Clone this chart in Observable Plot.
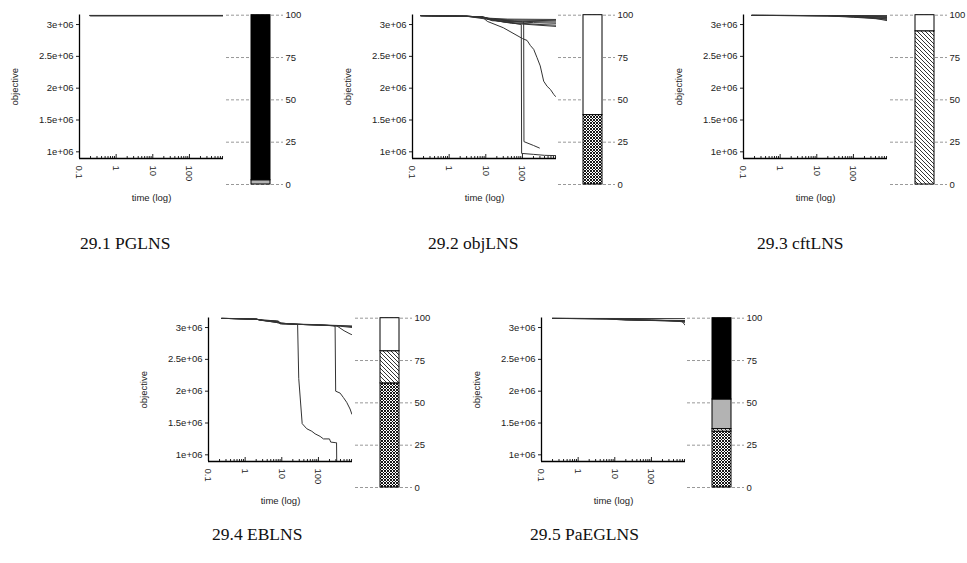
<!DOCTYPE html>
<html><head><meta charset="utf-8">
<script src="https://cdn.jsdelivr.net/npm/d3@7"></script>
<script src="https://cdn.jsdelivr.net/npm/@observablehq/plot@0.6"></script>
<style>
body{margin:0;background:#fff}
#root{position:relative;width:967px;height:563px;overflow:hidden;background:#fff}
.abs{position:absolute}
.cap{font-family:"Liberation Serif","DejaVu Serif",serif;font-size:17.5px;line-height:20px;color:#111;white-space:nowrap}
</style>
</head><body>
<svg width="0" height="0" style="position:absolute">
 <defs>
  <pattern id="xhatch" patternUnits="userSpaceOnUse" width="3" height="3">
   <rect width="3" height="3" fill="#fff"/>
   <path d="M0,0L3,3M3,0L0,3" stroke="#000" stroke-width="0.9"/>
  </pattern>
  <pattern id="hatch" patternUnits="userSpaceOnUse" width="4" height="4">
   <rect width="4" height="4" fill="#fff"/>
   <path d="M-1,-1L5,5M-1,3L1,5M3,-1L5,1" stroke="#000" stroke-width="0.8"/>
  </pattern>
 </defs>
</svg>
<div id="root"></div>
<script>
// ---------- data ----------
const panelNames = ["29.1 PGLNS", "29.2 objLNS", "29.3 cftLNS", "29.4 EBLNS", "29.5 PaEGLNS"];

const xTicks = [0.1, 1, 10, 100];
const xTickLabels = ["0.1", "1", "10", "100"];
const xMinorTicks = [0.2,0.3,0.4,0.5,0.6,0.7,0.8,0.9,2,3,4,5,6,7,8,9,20,30,40,50,60,70,80,90,200,300,400,500,600,700,800];
const yTicks = [1e6, 1.5e6, 2e6, 2.5e6, 3e6];
const yTickLabels = ["1e+06", "1.5e+06", "2e+06", "2.5e+06", "3e+06"];
const pctTicks = [0, 25, 50, 75, 100];
const pctTickLabels = ["0", "25", "50", "75", "100"];

// runs: [time, objective]
const pglnsRuns = [
  [[0.19,3.145e6],[850,3.145e6]],
  [[0.19,3.14e6],[850,3.14e6]],
  [[0.2,3.136e6],[850,3.136e6]]
];
const objlnsRuns = [
  [[0.17,3.14e6],[3,3.13e6],[8,3.12e6],[12,3.1e6],[40,3.085e6],[850,3.08e6]],
  [[0.17,3.14e6],[3,3.13e6],[8,3.12e6],[11,3.09e6],[60,3.07e6],[850,3.06e6]],
  [[0.17,3.14e6],[3,3.13e6],[9,3.115e6],[20,3.07e6],[100,3.05e6],[850,3.04e6]],
  [[0.17,3.14e6],[3,3.13e6],[9,3.11e6],[15,3.06e6],[200,3.03e6],[850,3.02e6]],
  [[0.17,3.14e6],[3,3.13e6],[10,3.1e6],[30,3.04e6],[300,3.0e6],[850,2.99e6]],
  [[0.17,3.14e6],[3,3.13e6],[12,3.08e6],[50,3.02e6],[850,2.97e6]],
  [[0.17,3.14e6],[3,3.13e6],[8,3.12e6],[11,3.05e6],[30,2.95e6],[100,2.78e6],[134,2.75e6],[165,2.67e6],[203,2.61e6],[250,2.48e6],[306,2.35e6],[380,2.11e6],[470,2.03e6],[580,1.98e6],[720,1.9e6],[800,1.87e6]],
  [[0.17,3.14e6],[3,3.13e6],[8,3.12e6],[12,3.08e6],[60,3.02e6],[93,3.0e6],[95,0.975e6],[200,0.96e6],[400,0.945e6],[850,0.94e6]],
  [[0.17,3.14e6],[3,3.13e6],[8,3.12e6],[12,3.09e6],[100,3.04e6],[108,3.04e6],[110,1.16e6],[200,1.1e6],[290,1.06e6]]
];
const cftlnsRuns = [
  [[0.17,3.145e6],[850,3.14e6]],
  [[0.17,3.145e6],[30,3.14e6],[850,3.13e6]],
  [[0.17,3.145e6],[20,3.14e6],[300,3.13e6],[850,3.12e6]],
  [[0.17,3.145e6],[20,3.14e6],[200,3.125e6],[850,3.11e6]],
  [[0.17,3.145e6],[25,3.14e6],[150,3.12e6],[850,3.1e6]],
  [[0.17,3.145e6],[20,3.14e6],[100,3.12e6],[850,3.09e6]],
  [[0.17,3.145e6],[20,3.135e6],[100,3.115e6],[850,3.08e6]],
  [[0.17,3.145e6],[30,3.135e6],[300,3.11e6],[850,3.06e6]]
];
const eblnsRuns = [
  [[0.23,3.145e6],[2,3.135e6],[2.6,3.115e6],[7,3.1e6],[9,3.07e6],[25,3.05e6],[250,3.035e6],[850,3.025e6]],
  [[0.23,3.145e6],[2,3.135e6],[3,3.11e6],[8,3.09e6],[9,3.06e6],[30,3.05e6],[300,3.03e6],[850,3.015e6]],
  [[0.23,3.145e6],[2,3.13e6],[3,3.11e6],[8,3.1e6],[10,3.06e6],[100,3.045e6],[400,3.02e6],[850,3.0e6]],
  [[0.23,3.145e6],[2,3.13e6],[8,3.1e6],[9,3.06e6],[100,3.04e6],[320,3.025e6],[500,2.95e6],[730,2.9e6],[800,2.89e6]],
  [[0.23,3.145e6],[2,3.13e6],[9,3.07e6],[27,3.05e6],[29,2.2e6],[36,1.49e6],[48,1.41e6],[66,1.37e6],[81,1.33e6],[111,1.29e6],[137,1.25e6],[200,1.25e6],[216,1.2e6],[300,1.19e6],[312,1.19e6],[316,0.85e6]],
  [[0.23,3.145e6],[2,3.13e6],[9,3.07e6],[30,3.05e6],[250,3.03e6],[285,3.02e6],[295,2.0e6],[390,1.97e6],[480,1.9e6],[590,1.825e6],[730,1.72e6],[815,1.64e6]]
];
const paeglnsRuns = [
  [[0.2,3.145e6],[850,3.14e6]],
  [[0.2,3.145e6],[6,3.14e6],[15,3.12e6],[850,3.11e6]],
  [[0.2,3.145e6],[8,3.14e6],[20,3.12e6],[300,3.11e6],[850,3.09e6]],
  [[0.2,3.145e6],[10,3.135e6],[100,3.12e6],[600,3.1e6],[850,3.08e6]],
  [[0.2,3.145e6],[6,3.14e6],[20,3.125e6],[500,3.1e6],[700,3.09e6],[850,3.03e6]],
  [[0.2,3.145e6],[12,3.13e6],[40,3.115e6],[850,3.1e6]]
];
const panelRuns = [pglnsRuns, objlnsRuns, cftlnsRuns, eblnsRuns, paeglnsRuns];

// stacked percentage bars (bottom to top)
const barCategories = ["crosshatched", "hatched", "shaded", "solid", "empty"];
const barFills = ["url(#xhatch)", "url(#hatch)", "#b3b3b3", "#000000", "#ffffff"];
const pglnsBar   = [0, 0, 2.5, 97.5, 0];
const objlnsBar  = [41, 0, 0, 0, 59];
const cftlnsBar  = [0, 90.5, 0, 0, 9.5];
const eblnsBar   = [61.5, 19, 0, 0, 19.5];
const paeglnsBar = [33, 1.5, 17.5, 48, 0];
const panelBars = [pglnsBar, objlnsBar, cftlnsBar, eblnsBar, paeglnsBar];

const xDomain = [0.1, 850];
const yDomain = [0.895e6, 3.15e6];

// ---------- layout ----------
const layout = [
  {lineLeft: 79,  top: 0,     barLeft: 226, capLeft: 80,  capTop: 233},
  {lineLeft: 412, top: 0,     barLeft: 558, capLeft: 428, capTop: 233},
  {lineLeft: 743, top: 0,     barLeft: 890, capLeft: 757, capTop: 233},
  {lineLeft: 208, top: 302.5, barLeft: 355, capLeft: 212, capTop: 524},
  {lineLeft: 541, top: 302.5, barLeft: 687, capLeft: 530, capTop: 524}
];
const ML = 79, PW = 144, MT = 14.5, PH = 143.5;
const font = {fontFamily: "'Liberation Sans', Arial, sans-serif", fontSize: "9.5px", color: "#222", background: "none", overflow: "visible"};

function lineChart(runs) {
  const data = runs.flatMap((run, i) => run.map(([t, v]) => ({run: i, t, v})));
  return Plot.plot({
    width: ML + PW + 6, height: MT + PH + 52,
    marginLeft: ML, marginRight: 6, marginTop: MT, marginBottom: 52,
    style: font,
    x: {type: "log", domain: xDomain},
    y: {domain: yDomain},
    marks: [
      Plot.axisY({ticks: yTicks, tickFormat: d => yTickLabels[yTicks.indexOf(d)], tickSize: 3, tickPadding: 3,
        label: "objective", labelAnchor: "center", labelOffset: 68, labelArrow: "none"}),
      Plot.axisX({ticks: xTicks, tickFormat: d => xTickLabels[xTicks.indexOf(d)], tickRotate: 90, tickSize: 0, tickPadding: 7,
        label: "time (log)", labelAnchor: "center", labelOffset: 42, labelArrow: "none"}),
      Plot.axisX({ticks: xTicks, tickFormat: () => "", tickSize: -4, label: null}),
      Plot.axisX({ticks: xMinorTicks, tickFormat: () => "", tickSize: -2, label: null}),
      Plot.line(data, {x: "t", y: "v", z: "run", stroke: "#333", strokeWidth: 1, clip: true}),
      Plot.ruleX([xDomain[0]], {stroke: "#000", strokeWidth: 1.3}),
      Plot.ruleY([yDomain[0]], {stroke: "#000", strokeWidth: 1.3})
    ]
  });
}

function barChart(name, values) {
  const data = barCategories.map((c, i) => ({method: name, cat: c, pct: values[i]})).filter(d => d.pct > 0);
  return Plot.plot({
    width: 57 + 26, height: 14.7 + 169.3 + 8,
    marginLeft: 0, marginRight: 26, marginTop: 14.7, marginBottom: 8,
    style: font,
    x: {type: "band", domain: [name], padding: 0.5, align: 0.66, axis: null},
    y: {domain: [0, 100]},
    color: {domain: barCategories, range: barFills},
    marks: [
      Plot.gridY({ticks: pctTicks, stroke: "#999", strokeOpacity: 1, strokeDasharray: "3,2"}),
      Plot.axisY({anchor: "right", ticks: pctTicks, tickFormat: d => pctTickLabels[pctTicks.indexOf(d)], tickSize: 0, tickPadding: 2, label: null}),
      Plot.barY(data, Plot.stackY({x: "method", y: "pct", fill: "cat", order: barCategories, stroke: "#000", strokeWidth: 1}))
    ]
  });
}

const root = document.getElementById("root");
panelNames.forEach((name, i) => {
  const L = layout[i];
  const lc = lineChart(panelRuns[i]);
  lc.classList.add("abs");
  lc.style.left = (L.lineLeft - ML) + "px";
  lc.style.top = L.top + "px";
  root.appendChild(lc);
  const bc = barChart(name, panelBars[i]);
  bc.classList.add("abs");
  bc.style.left = L.barLeft + "px";
  bc.style.top = L.top + "px";
  root.appendChild(bc);
  const cap = document.createElement("div");
  cap.className = "abs cap";
  cap.style.left = L.capLeft + "px";
  cap.style.top = L.capTop + "px";
  cap.textContent = name;
  root.appendChild(cap);
});
</script>
</body></html>
